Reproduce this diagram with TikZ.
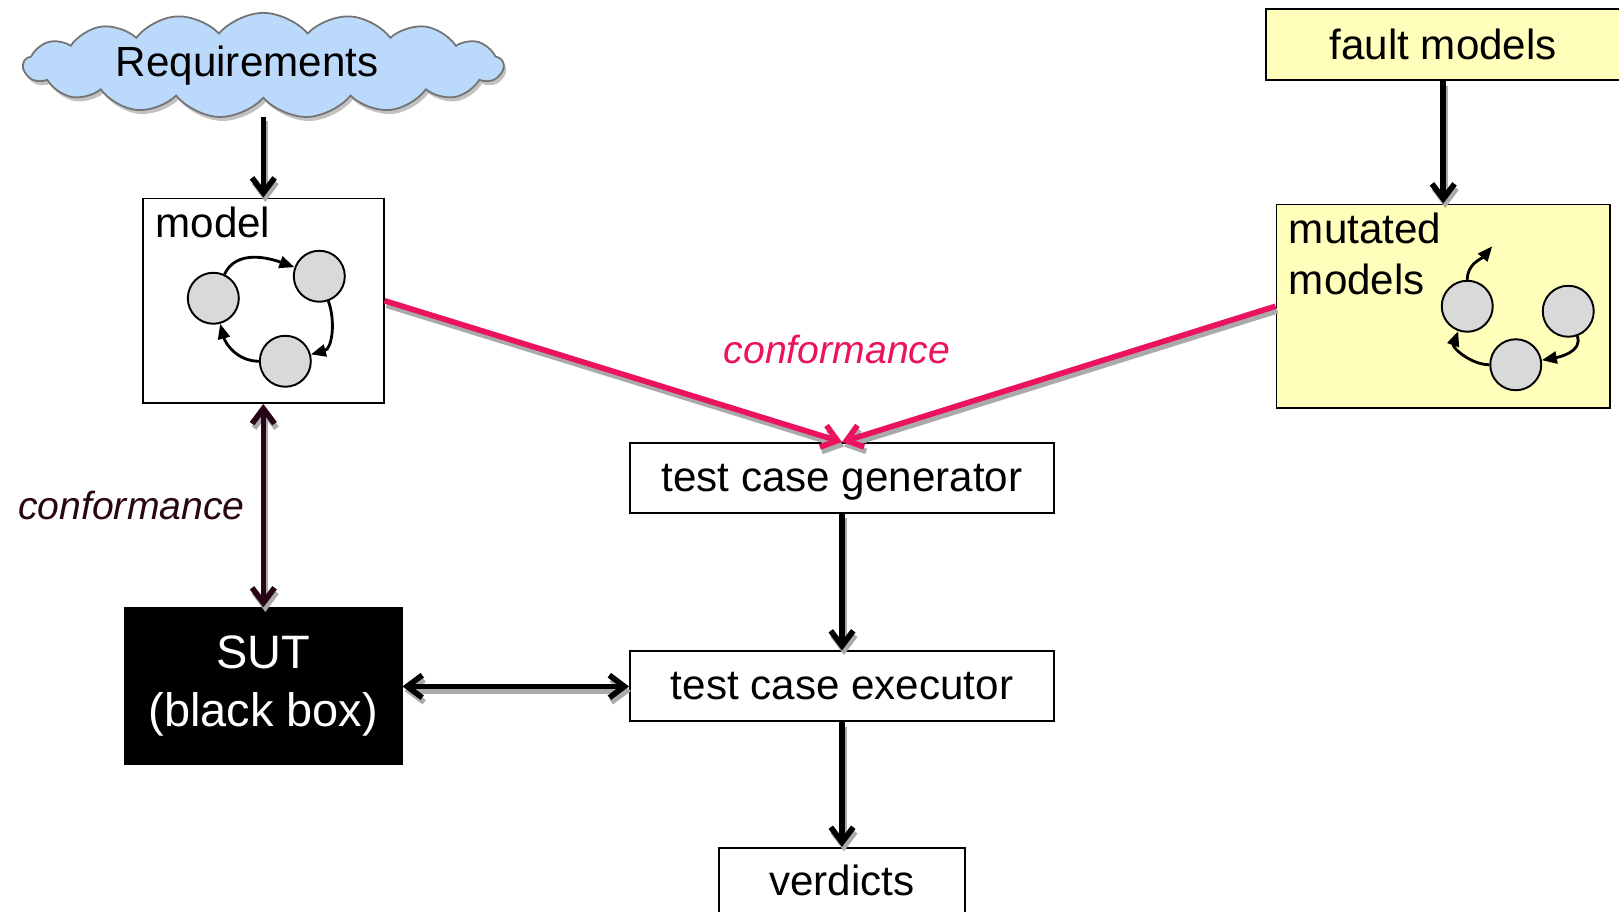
\documentclass[tikz,border=0pt]{standalone}
\usepackage{fontspec}
\setmainfont{Liberation Sans}
\usepackage{tikz}
\usetikzlibrary{arrows.meta}
\usetikzlibrary{shapes.symbols}
\usetikzlibrary{shadows}
\usetikzlibrary{positioning}
\usetikzlibrary{calc}
\definecolor{confpink}{RGB}{235,18,95}
\definecolor{confdark}{RGB}{40,5,20}
\definecolor{cloudblue}{RGB}{187,218,251}
\definecolor{faultyellow}{RGB}{255,255,187}
\definecolor{stategray}{RGB}{217,217,217}
\definecolor{shadowgray}{RGB}{170,170,170}
\tikzstyle{block} = [draw, rectangle, line width = 1.1pt, minimum height = 1.4cm, inner sep = 0.25cm]
\tikzstyle{circ} = [draw, circle, fill = stategray, line width = 1.1pt, minimum size = 1.02cm, inner sep = 0pt]
\tikzstyle{corner} = [inner xsep = 0.26cm, inner ysep = 0.19cm, align = left]
\tikzstyle{arrow} = [line width = 3.2pt, -{Straight Barb[length = 0.3cm, width = 0.45cm]}]
\tikzstyle{twoway} = [line width = 3.2pt, {Straight Barb[length = 0.3cm, width = 0.45cm]}-{Straight Barb[length = 0.3cm, width = 0.45cm]}]
\tikzstyle{trans} = [line width = 1.6pt, -{Triangle[length = 0.3cm, width = 0.24cm]}]
\tikzstyle{conftext} = [font = \fontsize{22.3}{27}\selectfont\itshape]

\begin{document}
\begin{tikzpicture}[font = \fontsize{24}{28.5}\selectfont]
			
			\useasboundingbox (0,0) rectangle (32.38,-18.24);
			
			% Test case chain
			\node[block, minimum width = 8.48cm, text depth = 0pt] (generator) at (16.84,-9.56) {test case generator};
			\node[block, minimum width = 8.48cm, below = 2.73cm of generator] (executor) {test case executor};
			\node[block, minimum width = 4.92cm, text height = 0.71cm, text depth = 1.6cm, below = 2.49cm of executor] (verdicts) {verdicts};
			
			% SUT, model and requirements on the left
			\node[block, fill = black, text = white, align = center, minimum width = 5.53cm, minimum height = 3.12cm, font = \fontsize{26.7}{33}\selectfont, left = 4.53cm of executor] (sut) {SUT\\(black box)};
			\node[block, minimum width = 4.81cm, minimum height = 4.09cm, above = 4.07cm of sut] (model) {};
			\node[cloud, cloud puffs = 17, cloud puff arc = 100, aspect = 6.5, draw = black!55, fill = cloudblue, line width = 1pt, minimum width = 9.6cm, minimum height = 2.1cm, inner sep = 0pt, text width = 5.9cm, align = left, drop shadow = {fill = black!40, opacity = 0.6, shadow xshift = 0.05cm, shadow yshift = -0.08cm}, above = 1.97cm of model] (requirements) {Requirements};
			
			% Fault models and mutated models on the right
			\node[block, fill = faultyellow, minimum width = 6.67cm, minimum height = 4.07cm, right = 17.82cm of model, yshift = -0.11cm] (mutated) {};
			\node[block, fill = faultyellow, minimum width = 7.1cm, minimum height = 1.43cm, above = 2.45cm of mutated] (fault) {fault models};
			
			% Box titles
			\node[corner, below right = 0cm of model.north west] (modeltxt) {model};
			\node[corner, below right = 0cm of mutated.north west] (mutatedtxt) {mutated\\models};
			
			% States of the model
			\node[circ] (c1) at ($(model) + (-1.0,0.05)$) {};
			\node[circ] (c2) at ($(model) + (1.12,0.49)$) {};
			\node[circ] (c3) at ($(model) + (0.44,-1.21)$) {};
			\draw[trans] (c1) to[out = 65, in = 160] (c2);
			\draw[trans] (c2) to[out = -70, in = 15] (c3);
			\draw[trans] (c3) to[out = 180, in = -75] (c1);
			
			% States of the mutated model
			\node[circ] (m1) at ($(mutated) + (0.48,0)$) {};
			\node[circ] (m2) at ($(mutated) + (2.5,-0.1)$) {};
			\node[circ] (m3) at ($(mutated) + (1.45,-1.17)$) {};
			\coordinate (mout) at ($(m1) + (0.5,1.2)$);
			\draw[trans] (m1) to[out = 90, in = -130] (mout);
			\draw[trans] (m2) to[out = -70, in = 10] (m3);
			\draw[trans] (m3) to[out = 180, in = -110] (m1);
			
			% Gray shadows under the connectors
			\begin{scope}[transform canvas = {shift = {(0.04cm,-0.09cm)}}, draw = shadowgray]
				\draw[arrow, shorten < = 0.35cm] (requirements) -- (model);
				\draw[arrow] (fault) -- (mutated);
				\draw[arrow] (generator) -- (executor);
				\draw[arrow] (executor) -- (verdicts);
				\draw[twoway] (sut) -- (executor);
				\draw[twoway] (model) -- (sut);
				\draw[arrow] (model.east) -- (generator.north);
				\draw[arrow] (mutated.west) -- (generator.north);
			\end{scope}
			
			% Connect all nodes defined above
			\draw[arrow, shorten < = 0.35cm] (requirements) -- (model);
			\draw[arrow] (fault) -- (mutated);
			\draw[arrow] (generator) -- (executor);
			\draw[arrow] (executor) -- (verdicts);
			\draw[twoway] (sut) -- (executor);
			\draw[twoway, draw = confdark] (model) -- (sut) node[conftext, midway, left = 0.2cm, text = confdark] (leftconf) {conformance};
			
			% Conformance towards the generator
			\draw[arrow, draw = confpink] (model.east) -- (generator.north);
			\draw[arrow, draw = confpink] (mutated.west) -- (generator.north);
			\node[conftext, text = confpink, above = 1.44cm of generator, xshift = -0.1cm] (topconf) {conformance};
		
		\end{tikzpicture}
\end{document}
